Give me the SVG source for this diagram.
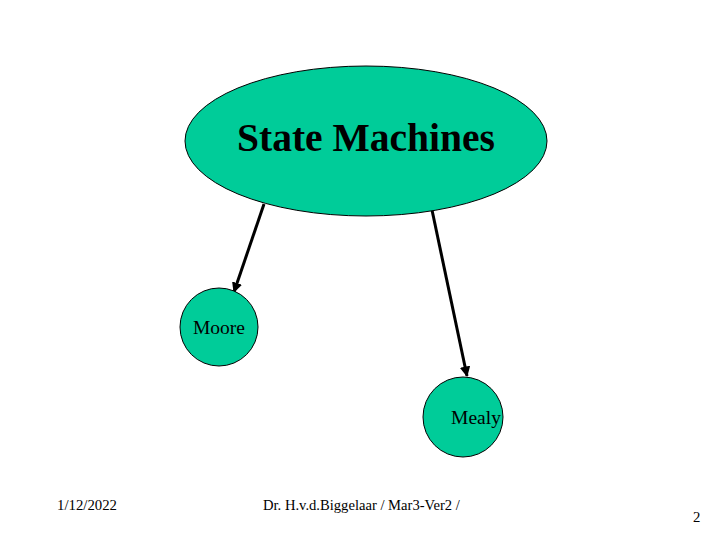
<svg xmlns="http://www.w3.org/2000/svg" width="720" height="540" viewBox="0 0 720 540">
<style>
.node{fill:#00CC99;stroke:#000;stroke-width:1}
.t{font-family:"Liberation Serif","Times New Roman",serif;fill:#000}
.edge{stroke:#000;stroke-width:3;fill:none}
</style>
<defs>
<marker id="ah" viewBox="0 0 10 10" refX="9" refY="5" markerWidth="3.5" markerHeight="3.5" orient="auto" markerUnits="strokeWidth">
<path d="M0,0 L10,5 L0,10 z" fill="#000"/>
</marker>
</defs>
<rect width="720" height="540" fill="#fff"/>
<g id="connectors">
<line class="edge" x1="264" y1="204" x2="234" y2="292" marker-end="url(#ah)"/>
<line class="edge" x1="432" y1="210" x2="467" y2="376" marker-end="url(#ah)"/>
</g>
<g id="state-machines">
<ellipse class="node" cx="366" cy="141" rx="181" ry="75"/>
<text class="t" x="366" y="151" font-size="39.5" font-weight="bold" text-anchor="middle">State Machines</text>
</g>
<g id="moore">
<circle class="node" cx="219" cy="327" r="39"/>
<text class="t" x="219" y="334" font-size="19.5" text-anchor="middle">Moore</text>
</g>
<g id="mealy">
<circle class="node" cx="463" cy="417" r="40"/>
<text class="t" x="476" y="424" font-size="19.5" text-anchor="middle">Mealy</text>
</g>
<g id="footer">
<text class="t" x="57" y="510" font-size="14.8">1/12/2022</text>
<text class="t" x="263" y="510" font-size="14.6">Dr. H.v.d.Biggelaar / Mar3-Ver2 /</text>
<text class="t" x="693" y="522" font-size="14.8">2</text>
</g>
</svg>
